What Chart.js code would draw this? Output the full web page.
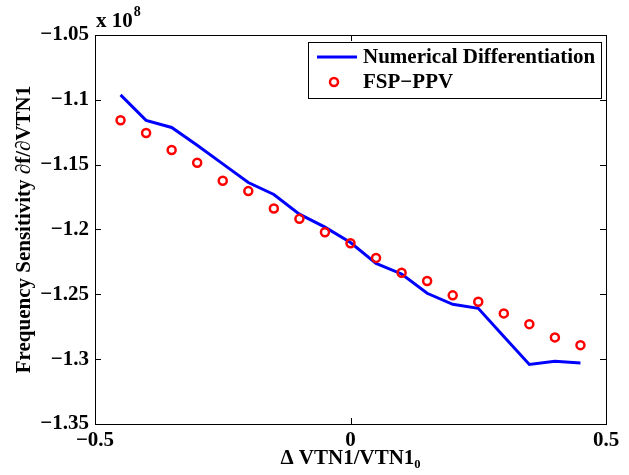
<!DOCTYPE html>
<html>
<head>
<meta charset="utf-8">
<script src="https://cdn.jsdelivr.net/npm/chart.js@4/dist/chart.umd.min.js"></script>
<style>
  body { margin: 0; background: #fff; }
  #wrap { width: 629px; height: 475px; }
</style>
</head>
<body>
<div id="wrap"><canvas id="myChart" width="629" height="475"></canvas></div>
<script>
'use strict';

// chart data (y values in units of 1e8)
var deltaVtn = [-0.45, -0.4, -0.35, -0.3, -0.25, -0.2, -0.15, -0.1, -0.05, 0,
  0.05, 0.1, 0.15, 0.2, 0.25, 0.3, 0.35, 0.4, 0.45];
var numericalDiff = [-1.0962, -1.1158, -1.1213, -1.1350, -1.1494, -1.1638, -1.1730, -1.1882, -1.1982, -1.2100,
  -1.2261, -1.2343, -1.2492, -1.2577, -1.2608, -1.2825, -1.3041, -1.3016, -1.3029];
var fspPpv = [-1.1158, -1.1256, -1.1387, -1.1485, -1.1624, -1.1704, -1.1838, -1.1918, -1.2021, -1.2106,
  -1.2219, -1.2333, -1.2397, -1.2508, -1.2557, -1.2647, -1.2730, -1.2832, -1.2892];
var seriesNames = ['Numerical Differentiation', 'FSP\u2212PPV'];
var xTicks = [-0.5, 0, 0.5];
var yTicks = [-1.35, -1.3, -1.25, -1.2, -1.15, -1.1, -1.05];

var FONT = "'Liberation Serif', 'DejaVu Serif', serif";
var FSIZE = 21;
var BLUE = '#0000ff';
var RED = '#ff0000';

function toPoints(xs, ys) {
  return xs.map(function(x, i) { return {x: x, y: ys[i]}; });
}

function fmt(v) {
  var s = String(parseFloat(v.toFixed(2)));
  return s.replace('-', '\u2212');
}

// box, inward ticks, exponent label and legend, MATLAB style
var matlabFrame = {
  id: 'matlabFrame',
  afterDraw: function(chart) {
    var ctx = chart.ctx;
    var a = chart.chartArea;
    var xs = chart.scales.x;
    var ys = chart.scales.y;
    ctx.save();
    ctx.strokeStyle = '#000';
    ctx.lineWidth = 1;
    ctx.strokeRect(Math.round(a.left) + 0.5, Math.round(a.top) + 0.5,
      Math.round(a.right - a.left), Math.round(a.bottom - a.top));

    ctx.beginPath();
    xTicks.forEach(function(t) {
      var px = Math.round(xs.getPixelForValue(t)) + 0.5;
      ctx.moveTo(px, a.bottom); ctx.lineTo(px, a.bottom - 6);
      ctx.moveTo(px, a.top); ctx.lineTo(px, a.top + 6);
    });
    yTicks.forEach(function(t) {
      var py = Math.round(ys.getPixelForValue(t)) + 0.5;
      ctx.moveTo(a.left, py); ctx.lineTo(a.left + 6, py);
      ctx.moveTo(a.right, py); ctx.lineTo(a.right - 6, py);
    });
    ctx.stroke();

    // x 10^8
    ctx.fillStyle = '#000';
    ctx.textBaseline = 'alphabetic';
    ctx.textAlign = 'left';
    ctx.font = 'bold ' + FSIZE + 'px ' + FONT;
    ctx.fillText('x 10', a.left + 1, 27);
    var w = ctx.measureText('x 10').width;
    ctx.font = 'bold 14px ' + FONT;
    ctx.fillText('8', a.left + 2 + w, 16);

    // legend
    var lx = 308, ly = 42, lw = 293, lh = 56;
    ctx.fillStyle = '#fff';
    ctx.fillRect(lx, ly, lw, lh);
    ctx.strokeStyle = '#000';
    ctx.lineWidth = 1;
    ctx.strokeRect(lx + 0.5, ly + 0.5, lw, lh);

    ctx.strokeStyle = BLUE;
    ctx.lineWidth = 3;
    ctx.beginPath();
    ctx.moveTo(317, 57); ctx.lineTo(357, 57);
    ctx.stroke();

    ctx.strokeStyle = RED;
    ctx.lineWidth = 2.5;
    ctx.beginPath();
    ctx.arc(334, 82, 4, 0, Math.PI * 2);
    ctx.stroke();

    ctx.fillStyle = '#000';
    ctx.font = 'bold ' + FSIZE + 'px ' + FONT;
    ctx.textBaseline = 'middle';
    ctx.fillText(chart.data.datasets[0].label, 363, 58);
    ctx.fillText(chart.data.datasets[1].label, 363, 83);
    ctx.restore();
  }
};

var ctx = document.getElementById('myChart').getContext('2d');

var chartConfig = {
  type: 'scatter',
  data: {
    datasets: [
      {
        label: seriesNames[0],
        data: toPoints(deltaVtn, numericalDiff),
        showLine: true,
        borderColor: BLUE,
        borderWidth: 3,
        pointRadius: 0,
        tension: 0,
        order: 1
      },
      {
        label: seriesNames[1],
        data: toPoints(deltaVtn, fspPpv),
        showLine: false,
        pointStyle: 'circle',
        pointRadius: 4,
        borderWidth: 2.5,
        borderColor: RED,
        backgroundColor: 'rgba(0,0,0,0)',
        order: 0
      }
    ]
  },
  options: {
    responsive: false,
    animation: false,
    layout: { padding: { top: 35, right: 23, left: 0, bottom: 0 } },
    plugins: {
      legend: { display: false },
      tooltip: { enabled: false }
    },
    scales: {
      x: {
        type: 'linear',
        min: -0.5,
        max: 0.5,
        afterFit: function(scale) { scale.height = 51; },
        afterBuildTicks: function(scale) {
          scale.ticks = xTicks.map(function(v) { return {value: v}; });
        },
        grid: { display: false, drawTicks: false },
        border: { display: false },
        ticks: {
          color: '#000',
          padding: 4,
          maxRotation: 0,
          font: { family: FONT, size: FSIZE, weight: 'bold' },
          callback: function(v) { return fmt(v); }
        },
        title: {
          display: true,
          text: '\u0394 VTN1/VTN1\u2080',
          color: '#000',
          padding: { top: 0, bottom: 4 },
          font: { family: FONT, size: FSIZE, weight: 'bold' }
        }
      },
      y: {
        type: 'linear',
        min: -1.35,
        max: -1.05,
        afterFit: function(scale) { scale.width = 95; },
        afterBuildTicks: function(scale) {
          scale.ticks = yTicks.map(function(v) { return {value: v}; });
        },
        grid: { display: false, drawTicks: false },
        border: { display: false },
        ticks: {
          color: '#000',
          padding: 6,
          font: { family: FONT, size: FSIZE, weight: 'bold' },
          callback: function(v) { return fmt(v); }
        },
        title: {
          display: true,
          text: 'Frequency Sensitivity \u2202f/\u2202VTN1',
          color: '#000',
          padding: { top: 12, bottom: 0 },
          font: { family: FONT, size: FSIZE, weight: 'bold' }
        }
      }
    }
  },
  plugins: [matlabFrame]
};

var sensChart = new Chart(ctx, chartConfig);
</script>
</body>
</html>
